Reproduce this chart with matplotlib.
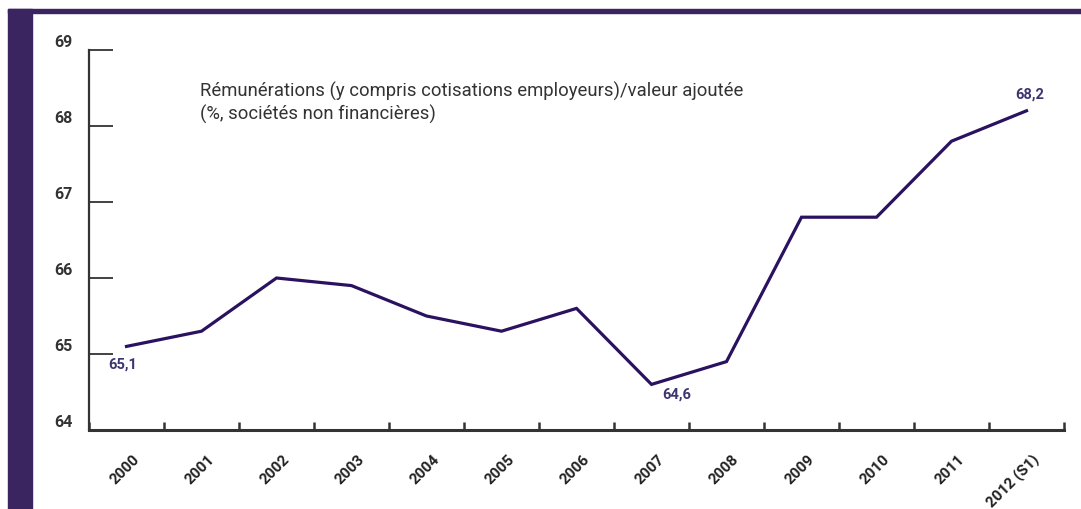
import matplotlib.pyplot as plt
from matplotlib.patches import Rectangle

years = ['2000', '2001', '2002', '2003', '2004', '2005', '2006',
         '2007', '2008', '2009', '2010', '2011', '2012 (S1)']
values = [65.1, 65.3, 66.0, 65.9, 65.5, 65.3, 65.6,
          64.6, 64.9, 66.8, 66.8, 67.8, 68.2]
yticks = [64, 65, 66, 67, 68, 69]

plt.rcParams['font.family'] = ['Roboto', 'DejaVu Sans']

line_col = '#2b1260'
band_col = '#3a2560'
lab_col = '#3b3570'
ax_col = '#333333'

fig = plt.figure(figsize=(10.81, 5.09), dpi=100)
W, H = 1081, 509

# purple frame (left bar + top line)
fig.patches.append(Rectangle((8 / W, 0), 24 / W, 1 - 9 / H, transform=fig.transFigure,
                             color=band_col, zorder=0))
fig.patches.append(Rectangle((8 / W, 1 - 12.5 / H), 1 - 8 / W, 3.5 / H, transform=fig.transFigure,
                             color=band_col, zorder=0))

ax = fig.add_axes([89 / W, 1 - 430 / H, (1064 - 89) / W, (430 - 50) / H])
x = list(range(len(years)))
ax.plot(x, values, color=line_col, lw=2.3, solid_joinstyle='miter')

ax.set_xlim(-0.5, len(years) - 0.5)
ax.set_ylim(64, 69)
for s in ['top', 'right']:
    ax.spines[s].set_visible(False)
for s in ['left', 'bottom']:
    ax.spines[s].set_color(ax_col)
    ax.spines[s].set_linewidth(1.6)
ax.spines['bottom'].set_linewidth(2.2)

ax.set_yticks(yticks)
ax.set_yticklabels([str(v) for v in yticks])
ax.tick_params(axis='y', direction='in', length=17.5, width=1.3, color=ax_col,
               pad=12, labelsize=11.5, labelcolor='#333333')
for t in ax.get_yticklabels():
    t.set_fontweight('bold')
    t.set_verticalalignment('bottom')

# x ticks at category boundaries, labels at centres
ax.set_xticks([i - 0.5 for i in range(len(years) + 1)])
ax.set_xticklabels([])
ax.tick_params(axis='x', direction='in', length=6, width=1.8, color=ax_col)
for i, yr in enumerate(years):
    ax.annotate(yr, xy=(i, 64), xycoords='data', xytext=(4, -16), textcoords='offset points',
                rotation=45, ha='right', va='top', rotation_mode='anchor',
                fontsize=11, fontweight='bold', color='#222222', annotation_clip=False)

ax.annotate('65,1', xy=(0, values[0]), xytext=(-13, -8), textcoords='offset points',
            fontsize=10.5, fontweight='bold', color=lab_col, va='top')
ax.annotate('64,6', xy=(7, values[7]), xytext=(8, -2), textcoords='offset points',
            fontsize=10.5, fontweight='bold', color=lab_col, va='top')
ax.annotate('68,2', xy=(12, values[12]), xytext=(-8, 7), textcoords='offset points',
            fontsize=10.5, fontweight='bold', color=lab_col, va='bottom')

fig.text(200 / W, 1 - 82 / H,
         'Rémunérations (y compris cotisations employeurs)/valeur ajoutée\n(%, sociétés non financières)',
         fontsize=13.3, color='#333333', va='top', ha='left', linespacing=1.25)

fig.savefig('out.png', dpi=100)
